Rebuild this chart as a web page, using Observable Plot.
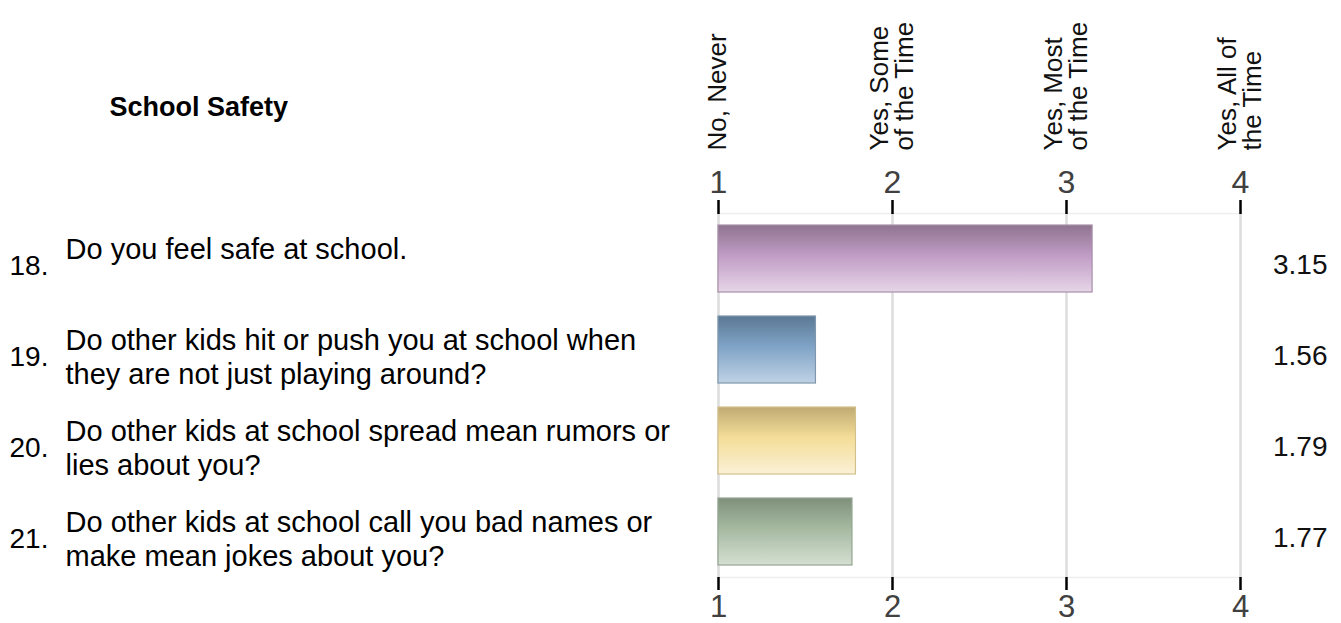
<!DOCTYPE html>
<html>
<head>
<meta charset="utf-8">
<script src="https://cdn.jsdelivr.net/npm/d3@7"></script>
<script src="https://cdn.jsdelivr.net/npm/@observablehq/plot@0.6"></script>
<style>
  html, body { margin: 0; padding: 0; background: #ffffff; }
</style>
</head>
<body>
<div id="chart"></div>
<script>
// ---- data ----
const sectionTitle = "School Safety";
const itemNumbers = ["18.", "19.", "20.", "21."];
const itemTexts = [
  "Do you feel safe at school.",
  "Do other kids hit or push you at school when\nthey are not just playing around?",
  "Do other kids at school spread mean rumors or\nlies about you?",
  "Do other kids at school call you bad names or\nmake mean jokes about you?"
];
const itemMeans = [3.15, 1.56, 1.79, 1.77];
const scaleValues = [1, 2, 3, 4];
const scaleLabels = ["No, Never", "Yes, Some\nof the Time", "Yes, Most\nof the Time", "Yes, All of\nthe Time"];

// ---- styles ----
const barGradients = [
  [["0%", "#8e748f"], ["45%", "#c09cc5"], ["100%", "#e6d5e8"]],
  [["0%", "#5b7894"], ["45%", "#7fa3c6"], ["100%", "#bfd2e5"]],
  [["0%", "#bfaa72"], ["45%", "#f4dd98"], ["100%", "#faf1d6"]],
  [["0%", "#7e907b"], ["45%", "#a5b9a0"], ["100%", "#d5dfd2"]]
];
const barStrokes = ["#a890aa", "#7f97ae", "#d2c08a", "#95a592"];

const rows = itemNumbers.map((id, i) => ({
  id, text: itemTexts[i], mean: itemMeans[i],
  fill: `url(#barGrad${i})`, stroke: barStrokes[i]
}));
const scaleRows = scaleValues.map((v, i) => ({ value: v, label: scaleLabels[i] }));

const font = '"Liberation Sans", Arial, Helvetica, sans-serif';

const plot = Plot.plot({
  width: 1341,
  height: 623,
  marginLeft: 718,
  marginRight: 101,
  marginTop: 213,
  marginBottom: 46,
  style: { fontFamily: font, background: "#ffffff", color: "#000000" },
  x: { domain: [1, 4], axis: null },
  y: { domain: itemNumbers, paddingInner: 0.264, paddingOuter: 0.132, axis: null },
  color: { type: "identity" },
  marks: [
    Plot.frame({ stroke: "#eeeeee", strokeWidth: 1.5 }),
    Plot.gridX(scaleValues, { stroke: "#dddddd", strokeWidth: 2.5, strokeOpacity: 1 }),
    Plot.barX(rows, { x1: 1, x2: "mean", y: "id", fill: "fill", stroke: "stroke", strokeWidth: 1.2 }),
    Plot.axisX(scaleValues, {
      anchor: "top", tickSize: 14, tickPadding: 7, fontSize: 32,
      stroke: "#000000", strokeWidth: 2.5, fill: "#404040", label: null, tickFormat: d => String(d)
    }),
    Plot.axisX(scaleValues, {
      anchor: "bottom", tickSize: 13, tickPadding: 4, fontSize: 31,
      stroke: "#000000", strokeWidth: 2.5, fill: "#404040", label: null, tickFormat: d => String(d)
    }),
    // response category labels (rotated)
    Plot.text(scaleRows, {
      x: "value", frameAnchor: "top", text: "label", rotate: -90,
      textAnchor: "start", lineAnchor: "middle", dy: -63,
      fontSize: 26, lineHeight: 0.95, fill: "#111111"
    }),
    // item numbers
    Plot.text(rows, {
      y: "id", frameAnchor: "left", text: "id", textAnchor: "start",
      lineAnchor: "middle", dx: -709, dy: 7, fontSize: 28, fill: "#000000"
    }),
    // item texts
    Plot.text(rows, {
      y: "id", frameAnchor: "left", text: "text", textAnchor: "start",
      lineAnchor: "top", dx: -653, dy: -23, fontSize: 29, lineHeight: 1.14, fill: "#000000"
    }),
    // mean values
    Plot.text(rows, {
      y: "id", frameAnchor: "right", text: d => d.mean.toFixed(2), textAnchor: "end",
      lineAnchor: "middle", dx: 87, dy: 6, fontSize: 28, fill: "#111111"
    }),
    // section title
    Plot.text([sectionTitle], {
      frameAnchor: "top-left", text: d => d, textAnchor: "start", lineAnchor: "bottom",
      dx: -609, dy: -98, fontSize: 27, fontWeight: "bold", fill: "#000000"
    })
  ]
});

const defs = d3.select(plot).insert("defs", ":first-child");
barGradients.forEach((stops, i) => {
  const g = defs.append("linearGradient")
    .attr("id", `barGrad${i}`)
    .attr("x1", 0).attr("y1", 0).attr("x2", 0).attr("y2", 1);
  stops.forEach(([o, c]) => g.append("stop").attr("offset", o).attr("stop-color", c));
});

document.getElementById("chart").appendChild(plot);
</script>
</body>
</html>
